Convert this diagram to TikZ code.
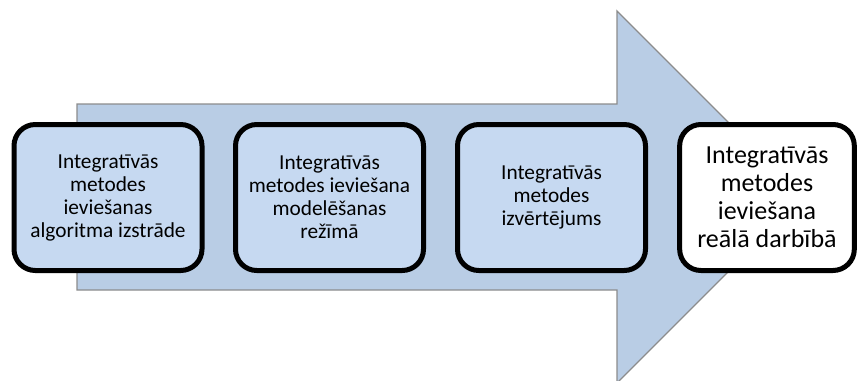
\documentclass[tikz,border=0pt]{standalone}
\usepackage{fontspec}
\setmainfont{Carlito}
\usepackage{tikz}

\definecolor{arrowfill}{HTML}{B9CDE5}
\definecolor{arrowline}{HTML}{8C8C8C}
\definecolor{stagefill}{HTML}{C6D9F1}

\tikzset{
	stage/.style={draw=black, line width=3.75pt, rounded corners=16pt, fill=stagefill,
		minimum width=141pt, minimum height=109.5pt, inner sep=0pt, align=center,
		font=\fontsize{16}{17.25}\selectfont},
	goal/.style={stage, fill=white, minimum width=131pt, font=\fontsize{19.5}{21}\selectfont}
}

\begin{document}
\begin{tikzpicture}[x=0.75pt, y=-0.75pt]
	%%%%% START %%%%%
	\useasboundingbox (0, 0) rectangle (858, 380);
	
	% big arrow behind the stages
	\draw[fill=arrowfill, draw=arrowline, line width=1pt, line join=miter]
		(77, 104) -- (617, 104) -- (617, 11) -- (803, 197) -- (617, 383) -- (617, 290) -- (77, 290) -- cycle;
	
	% stages
	\node[stage] (algoritms) at (108, 197.5) {Integratīvās\\metodes\\ieviešanas\\algoritma izstrāde};
	\node[stage] (modelesana) at (329.5, 197.5) {Integratīvās\\metodes ieviešana\\modelēšanas\\režīmā};
	\node[stage] (izvertejums) at (551.5, 197.5) {Integratīvās\\metodes\\izvērtējums};
	\node[goal] (darbiba) at (767, 197.5) {Integratīvās\\metodes\\ieviešana\\reālā darbībā};
	
	%%%%% END %%%%%
\end{tikzpicture}
\end{document}
